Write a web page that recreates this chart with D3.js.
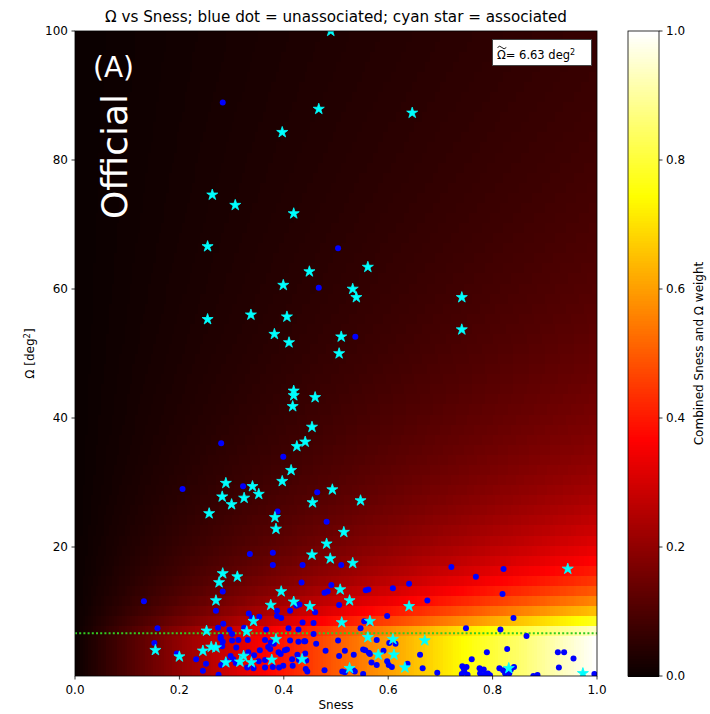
<!DOCTYPE html>
<html>
<head>
<meta charset="utf-8">
<script src="https://cdn.jsdelivr.net/npm/d3@7"></script>
<style>
  body { margin: 0; background: #fff; }
  svg { display: block; }
  text { font-family: "DejaVu Sans", sans-serif; }
</style>
</head>
<body>
<div id="chart"></div>
<script>
let omegaTilde = 6.63
let xTicks = [0, 0.2, 0.4, 0.6, 0.8, 1.0]
let yTicks = [20, 40, 60, 80, 100]
let cbTicks = [0, 0.2, 0.4, 0.6, 0.8, 1.0]

// cyan stars
let assocS = [0.490,0.467,0.646,0.397,0.263,0.307,0.419,0.254,0.561,0.449,0.399,0.532,0.539,0.741,0.254,0.337,0.406,0.382,0.410,0.510,
  0.741,0.506,0.419,0.419,0.460,0.417,0.454,0.441,0.425,0.414,0.397,0.289,0.340,0.282,0.324,0.352,0.300,0.257,0.493,0.455,
  0.547,0.383,0.385,0.515,0.482,0.454,0.489,0.532,0.283,0.311,0.276,0.508,0.526,0.270,0.395,0.375,0.419,0.450,0.342,0.511,
  0.565,0.252,0.329,0.561,0.385,0.245,0.261,0.270,0.154,0.200,0.289,0.323,0.316,0.338,0.377,0.435,0.944,0.640,0.609,0.670,
  0.581,0.611,0.632,0.526,0.831,0.973]
let assocOmega = [100.0,87.9,87.3,84.3,74.6,73.0,71.7,66.6,63.4,62.7,60.6,60.0,58.7,58.7,55.3,56.0,55.7,53.0,51.7,52.6,
  53.7,50.0,44.2,43.5,43.2,41.8,38.6,36.3,35.6,31.9,30.2,29.9,29.4,27.8,27.6,28.2,26.6,25.2,28.9,26.9,
  27.2,24.6,22.8,22.3,20.5,18.8,18.2,17.5,15.9,15.4,14.5,13.4,11.7,11.7,13.1,11.0,11.5,10.8,8.5,8.3,
  8.5,7.0,6.9,6.0,5.7,3.9,4.5,4.4,4.0,3.0,2.1,3.1,2.2,2.1,2.5,2.6,16.6,10.8,5.7,5.5,
  3.3,3.3,1.3,1.2,1.2,0.4]

// blue dots
let unassocS = [0.283,0.504,0.467,0.537,0.280,0.399,0.206,0.322,0.464,0.388,0.482,0.335,0.379,0.379,0.510,0.436,0.283,0.434,0.491,0.478,
  0.557,0.562,0.424,0.430,0.506,0.270,0.387,0.387,0.395,0.333,0.339,0.353,0.412,0.460,0.284,0.274,0.296,0.324,0.366,0.436,
  0.457,0.409,0.428,0.554,0.547,0.457,0.279,0.279,0.301,0.301,0.504,0.462,0.578,0.364,0.375,0.370,0.412,0.428,0.439,0.232,
  0.251,0.245,0.132,0.158,0.152,0.195,0.275,0.282,0.283,0.280,0.309,0.298,0.303,0.308,0.313,0.331,0.330,0.342,0.332,0.343,
  0.352,0.364,0.379,0.391,0.399,0.390,0.394,0.402,0.406,0.416,0.417,0.426,0.429,0.443,0.441,0.442,0.445,0.480,0.478,0.721,
  0.821,0.768,0.640,0.609,0.819,0.675,0.598,0.840,0.749,0.815,0.865,0.602,0.614,0.517,0.552,0.556,0.563,0.565,0.591,0.506,
  0.534,0.661,0.789,0.828,0.925,0.937,0.955,0.760,0.568,0.578,0.598,0.601,0.607,0.637,0.517,0.533,0.512,0.552,0.666,0.694,
  0.742,0.745,0.746,0.741,0.750,0.752,0.775,0.783,0.776,0.785,0.791,0.795,0.813,0.820,0.824,0.832,0.835,0.841,0.878,0.886,
  0.927,0.995,0.484,0.374,0.381,0.441,0.536,0.354,0.364,0.290]
let unassocOmega = [88.9,66.3,60.2,52.6,36.1,34.0,29.0,29.4,28.5,25.5,23.9,18.9,19.1,17.2,17.2,17.2,13.1,14.5,14.1,12.9,
  13.3,13.4,10.9,11.1,11.0,10.1,10.1,9.3,9.0,9.7,9.0,9.2,10.1,9.9,8.1,7.5,7.2,7.5,7.2,8.3,
  8.2,7.4,7.2,8.5,7.4,6.5,6.1,5.8,6.5,5.5,5.5,5.0,5.6,5.6,5.2,4.5,5.5,5.3,5.4,2.6,
  1.9,0.8,11.6,7.4,5.1,3.5,0.2,4.6,5.3,1.7,4.4,3.1,2.6,2.0,5.6,5.6,1.3,1.2,3.7,3.2,
  2.3,1.3,1.4,1.3,1.6,3.7,3.4,4.0,4.1,2.6,1.6,3.3,2.5,2.4,3.5,1.1,0.7,3.9,0.9,16.9,
  16.6,15.4,14.3,13.6,12.7,11.7,9.3,9.0,7.4,7.2,6.2,5.1,5.0,3.9,4.1,4.0,3.6,3.4,3.9,3.1,
  3.3,3.3,3.7,4.2,3.7,3.7,2.7,2.6,2.1,1.7,2.3,1.7,1.4,1.9,0.6,0.9,0.7,0.3,1.2,0.5,
  1.5,1.1,0.6,0.3,1.4,0.2,1.2,1.0,0.4,0.2,0.4,0.1,1.2,0.9,0.4,0.4,1.0,1.4,0.0,0.15,
  1.3,0.3,13.1,4.2,5.0,5.4,0.7,4.0,2.5,2.3]

let width = 710
let height = 714
let plot = {left: 75, right: 597, top: 31, bottom: 676}
let cb = {left: 628, right: 659}
let nCols = 200
let nRows = 64

let svg = d3.select("#chart")
  .append("svg")
  .attr("width", width)
  .attr("height", height)

let x = d3.scaleLinear().domain([0, 1]).range([plot.left, plot.right])
let y = d3.scaleLinear().domain([0, 100]).range([plot.bottom, plot.top])

// matplotlib "hot" through its 256 entry lookup table
let hot = v => {
  let t = Math.max(0, Math.min(255, Math.floor(v * 256))) / 255
  let r = t < 0.365079 ? 0.0416 + 0.9584 * t / 0.365079 : 1
  let g = t < 0.365079 ? 0 : t < 0.746032 ? (t - 0.365079) / 0.380953 : 1
  let b = t < 0.746032 ? 0 : (t - 0.746032) / 0.253968
  return d3.rgb(r * 255, g * 255, b * 255).formatHex()
}

let weight = (s, om) => s * Math.min(1, omegaTilde / om)

svg.append("clipPath").attr("id", "clip")
  .append("rect")
  .attr("x", plot.left).attr("y", plot.top)
  .attr("width", plot.right - plot.left).attr("height", plot.bottom - plot.top)

let g = svg.append("g").attr("clip-path", "url(#clip)")

// background weight map
let cells = []
for (let i = 0; i < nCols; i++) {
  for (let j = 0; j < nRows; j++) {
    let s0 = i / nCols, s1 = (i + 1) / nCols
    let o0 = 100 * j / nRows, o1 = 100 * (j + 1) / nRows
    cells.push({s0, s1, o0, o1, w: weight((s0 + s1) / 2, (o0 + o1) / 2)})
  }
}
g.append("g")
  .attr("shape-rendering", "crispEdges")
  .selectAll("rect")
  .data(cells)
  .enter()
  .append("rect")
  .attr("x", d => x(d.s0))
  .attr("y", d => y(d.o1))
  .attr("width", d => x(d.s1) - x(d.s0) + 0.6)
  .attr("height", d => y(d.o0) - y(d.o1) + 0.6)
  .attr("fill", d => hot(d.w))

g.append("line")
  .attr("x1", plot.left).attr("x2", plot.right)
  .attr("y1", y(omegaTilde)).attr("y2", y(omegaTilde))
  .attr("stroke", "#33cc22")
  .attr("stroke-width", 2)
  .attr("stroke-dasharray", "2,2.2")

g.append("g")
  .selectAll("circle")
  .data(unassocS.map((s, i) => ({s, om: unassocOmega[i]})))
  .enter()
  .append("circle")
  .attr("cx", d => x(d.s))
  .attr("cy", d => y(d.om))
  .attr("r", 3)
  .attr("fill", "#0000ff")

let star = d3.symbol().type(d3.symbolStar).size(38)
g.append("g")
  .selectAll("path")
  .data(assocS.map((s, i) => ({s, om: assocOmega[i]})))
  .enter()
  .append("path")
  .attr("d", star)
  .attr("transform", d => `translate(${x(d.s)},${y(d.om)})`)
  .attr("fill", "#00ffff")
  .attr("stroke", "#00ffff")
  .attr("stroke-width", 0.8)
  .attr("stroke-linejoin", "round")

// panel labels
svg.append("text")
  .attr("x", 93).attr("y", 77)
  .attr("font-size", 28)
  .attr("fill", "#fff")
  .text("(A)")
svg.append("text")
  .attr("transform", "translate(127,219) rotate(-90)")
  .attr("font-size", 36)
  .attr("fill", "#fff")
  .text("Official")

// legend box
svg.append("rect")
  .attr("x", 492.5).attr("y", 39.5)
  .attr("width", 99).attr("height", 26)
  .attr("fill", "#fff")
  .attr("stroke", "#444")
  .attr("stroke-width", 1)
let leg = svg.append("text")
  .attr("x", 497).attr("y", 59)
  .attr("font-size", 11.5)
  .attr("fill", "#000")
leg.append("tspan").text("\u03A9= " + omegaTilde.toFixed(2) + " deg")
leg.append("tspan").attr("dy", -4).attr("font-size", 8).text("2")
// wide tilde over the omega
svg.append("path")
  .attr("d", "M497.5,47.5 q2.2,-2.6 4.4,0 t4.4,0")
  .attr("fill", "none")
  .attr("stroke", "#000")
  .attr("stroke-width", 0.9)

// frame
svg.append("rect")
  .attr("x", plot.left).attr("y", plot.top)
  .attr("width", plot.right - plot.left).attr("height", plot.bottom - plot.top)
  .attr("fill", "none").attr("stroke", "#000").attr("stroke-width", 0.8)

// axes
let xAxis = svg.append("g")
xAxis.selectAll("line").data(xTicks).enter().append("line")
  .attr("x1", d => x(d)).attr("x2", d => x(d))
  .attr("y1", plot.bottom).attr("y2", plot.bottom + 3.5)
  .attr("stroke", "#000").attr("stroke-width", 0.8)
xAxis.selectAll("text").data(xTicks).enter().append("text")
  .attr("x", d => x(d)).attr("y", plot.bottom + 18)
  .attr("text-anchor", "middle").attr("font-size", 12)
  .text(d => d.toFixed(1))

let yAxis = svg.append("g")
yAxis.selectAll("line").data(yTicks).enter().append("line")
  .attr("x1", plot.left - 3.5).attr("x2", plot.left)
  .attr("y1", d => y(d)).attr("y2", d => y(d))
  .attr("stroke", "#000").attr("stroke-width", 0.8)
yAxis.selectAll("text").data(yTicks).enter().append("text")
  .attr("x", plot.left - 7).attr("y", d => y(d) + 4.3)
  .attr("text-anchor", "end").attr("font-size", 12)
  .text(d => d)

svg.append("text")
  .attr("x", (plot.left + plot.right) / 2).attr("y", 709)
  .attr("text-anchor", "middle").attr("font-size", 12)
  .text("Sness")

let yl = svg.append("text")
  .attr("transform", `translate(34,${(plot.top + plot.bottom) / 2}) rotate(-90)`)
  .attr("text-anchor", "middle").attr("font-size", 12)
yl.append("tspan").text("\u03A9 [deg")
yl.append("tspan").attr("dy", -4).attr("font-size", 8.5).text("2")
yl.append("tspan").attr("dy", 4).text("]")

svg.append("text")
  .attr("x", (plot.left + plot.right) / 2).attr("y", 22)
  .attr("text-anchor", "middle").attr("font-size", 15.2)
  .text("\u03A9 vs Sness; blue dot = unassociated; cyan star = associated")

// colour bar
let cy = d3.scaleLinear().domain([0, 1]).range([plot.bottom, plot.top])
let cbSteps = d3.range(256).map(i => i / 256)
svg.append("g")
  .attr("shape-rendering", "crispEdges")
  .selectAll("rect")
  .data(cbSteps)
  .enter()
  .append("rect")
  .attr("x", cb.left)
  .attr("y", d => cy(d + 1 / 256))
  .attr("width", cb.right - cb.left)
  .attr("height", d => cy(d) - cy(d + 1 / 256) + 0.6)
  .attr("fill", d => hot(d + 0.5 / 256))
svg.append("rect")
  .attr("x", cb.left).attr("y", plot.top)
  .attr("width", cb.right - cb.left).attr("height", plot.bottom - plot.top)
  .attr("fill", "none").attr("stroke", "#000").attr("stroke-width", 0.8)

let cbAxis = svg.append("g")
cbAxis.selectAll("line").data(cbTicks).enter().append("line")
  .attr("x1", cb.right).attr("x2", cb.right + 3.5)
  .attr("y1", d => cy(d)).attr("y2", d => cy(d))
  .attr("stroke", "#000").attr("stroke-width", 0.8)
cbAxis.selectAll("text").data(cbTicks).enter().append("text")
  .attr("x", cb.right + 7).attr("y", d => cy(d) + 4.3)
  .attr("font-size", 12)
  .text(d => d.toFixed(1))

svg.append("text")
  .attr("transform", `translate(703,${(plot.top + plot.bottom) / 2}) rotate(-90)`)
  .attr("text-anchor", "middle").attr("font-size", 12)
  .text("Combined Sness and \u03A9 weight")
</script>
</body>
</html>
